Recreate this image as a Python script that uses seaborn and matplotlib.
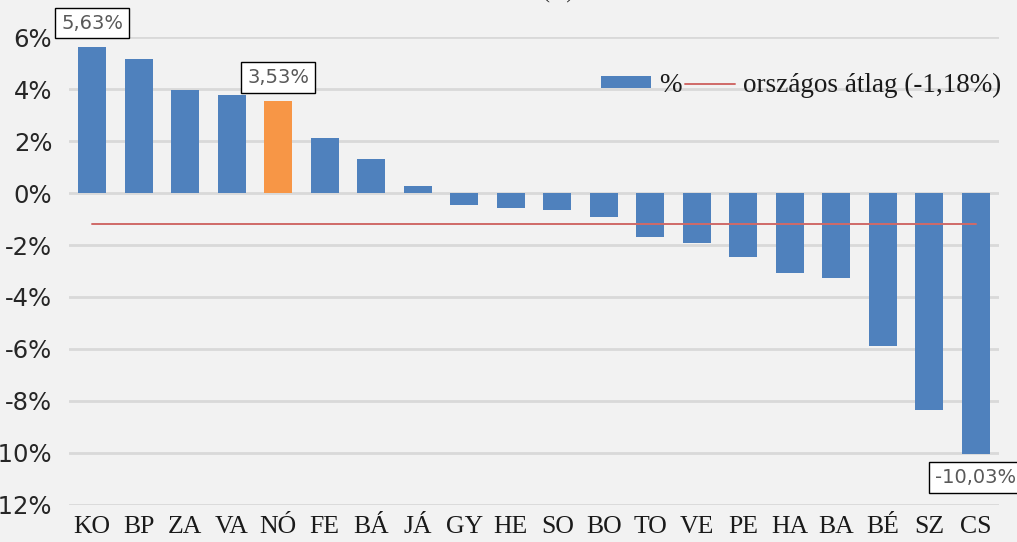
import matplotlib

matplotlib.use("Agg")

import matplotlib.pyplot as plt
import seaborn as sns
from matplotlib.lines import Line2D
from matplotlib.patches import Patch
from matplotlib.ticker import FuncFormatter


COUNTIES = ["KO", "BP", "ZA", "VA", "NÓ", "FE", "BÁ", "JÁ", "GY", "HE",
            "SO", "BO", "TO", "VE", "PE", "HA", "BA", "BÉ", "SZ", "CS"]
CHANGE_PCT = [5.63, 5.15, 3.95, 3.76, 3.53, 2.10, 1.30, 0.28, -0.46, -0.57,
              -0.67, -0.91, -1.69, -1.92, -2.45, -3.08, -3.28, -5.88, -8.35, -10.03]
NATIONAL_AVG = -1.18
HIGHLIGHT = "NÓ"
LABELLED = {"KO": 1, "NÓ": 1, "CS": -1}

BLUE = "#4F81BD"
ORANGE = "#F79646"
RED = "#D06A68"
BG = "#F2F2F2"


def main() -> None:
    sns.set_theme(style="white")
    fig = plt.figure(figsize=(10.17, 5.42), dpi=100, facecolor=BG)
    ax = fig.add_axes([0.0678, 0.0683, 0.9145, 0.8634])
    ax.set_facecolor(BG)

    palette = {c: (ORANGE if c == HIGHLIGHT else BLUE) for c in COUNTIES}
    sns.barplot(x=COUNTIES, y=CHANGE_PCT, hue=COUNTIES, palette=palette,
                width=0.6, saturation=1, legend=False, linewidth=0,
                ax=ax, zorder=2)
    sns.lineplot(x=COUNTIES, y=[NATIONAL_AVG] * len(COUNTIES), color=RED,
                 linewidth=1.4, ax=ax, zorder=3)

    ax.set_ylim(-12, 6)
    ax.set_xlim(-0.5, len(COUNTIES) - 0.5)
    ax.set_yticks(range(-12, 7, 2))
    ax.yaxis.set_major_formatter(FuncFormatter(lambda v, _: f"{v:.0f}%"))
    ax.grid(axis="y", color="#D9D9D9", linewidth=2, zorder=0)
    ax.set_axisbelow(True)
    for spine in ax.spines.values():
        spine.set_visible(False)
    ax.tick_params(axis="y", length=0, pad=12, labelsize=17.5,
                   labelcolor="#262626")
    ax.tick_params(axis="x", length=0, pad=8, labelsize=18.5,
                   labelcolor="#1A1A1A")
    for lbl in ax.get_xticklabels():
        lbl.set_fontfamily("Liberation Serif")
    for lbl in ax.get_yticklabels():
        lbl.set_fontfamily("DejaVu Sans")
    ax.set_xlabel("")
    ax.set_ylabel("")

    for i, (county, val) in enumerate(zip(COUNTIES, CHANGE_PCT)):
        if county in LABELLED:
            sign = LABELLED[county]
            ax.annotate(f"{val:.2f}%".replace(".", ","), xy=(i, val),
                        xytext=(0, 17 * sign), textcoords="offset points",
                        ha="center", va="center", fontsize=14,
                        color="#595959", family="DejaVu Sans",
                        annotation_clip=False,
                        bbox=dict(boxstyle="square,pad=0.3", fc="white",
                                  ec="black", lw=1))

    handles = [Patch(facecolor=BLUE, edgecolor="none"),
               Line2D([0], [0], color=RED, linewidth=1.4)]
    labels = ["%", "országos átlag (-1,18%)"]
    ax.legend(handles, labels, ncol=2, frameon=False, loc="center right",
              bbox_to_anchor=(0.995, 0.842), bbox_transform=fig.transFigure,
              prop={"family": "Liberation Serif", "size": 19.5},
              handlelength=1.85, handleheight=0.3, handletextpad=0.3,
              columnspacing=0.1, borderaxespad=0, labelcolor="#1A1A1A")

    fig.text(0.548, 1 + 1.5 / 542, "(%)", ha="center", va="baseline",
             fontsize=15, family="Liberation Serif", color="#262626")

    fig.savefig("out.png", dpi=100, facecolor=BG)


if __name__ == "__main__":
    main()
